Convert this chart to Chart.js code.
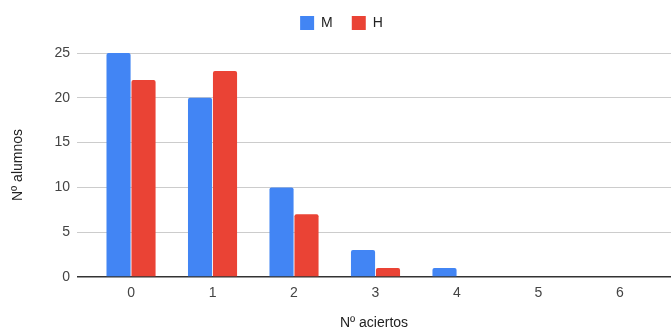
<!DOCTYPE html>
<html>
<head>
<meta charset="utf-8">
<script src="https://cdn.jsdelivr.net/npm/chart.js@4"></script>
<style>
  html, body { margin: 0; padding: 0; background: #fff; }
  #wrap { width: 671px; height: 335px; position: relative; }
</style>
</head>
<body>
<div id="wrap"><canvas id="c"></canvas></div>
<script>
// Número de aciertos por alumno, separado por M y H
const categories = [0, 1, 2, 3, 4, 5, 6];
const seriesM = [25, 20, 10, 3, 1, 0, 0];
const seriesH = [22, 23, 7, 1, 0, 0, 0];
const yTicks = [0, 5, 10, 15, 20, 25];

const FONT = "'Liberation Sans', Arial, sans-serif";
const toPoints = vals => categories.map((c, i) => ({ x: c, y: vals[i] }));

// Leaves extra room between the legend row and the plot
const legendGap = {
  id: 'legendGap',
  beforeLayout(chart) {
    const lg = chart.legend;
    if (lg && !lg._gapAdded) {
      const fit = lg.fit.bind(lg);
      lg.fit = function () { fit(); this.height += 13; };
      lg._gapAdded = true;
    }
  }
};

new Chart(document.getElementById('c'), {
  type: 'bar',
  data: {
    datasets: [
      { label: 'M', data: toPoints(seriesM), backgroundColor: '#4285F4',
        borderRadius: 2, borderSkipped: 'start',
        categoryPercentage: 0.613, barPercentage: 0.965 },
      { label: 'H', data: toPoints(seriesH), backgroundColor: '#EA4335',
        borderRadius: 2, borderSkipped: 'start',
        categoryPercentage: 0.613, barPercentage: 0.965 }
    ]
  },
  plugins: [legendGap],
  options: {
    responsive: true,
    maintainAspectRatio: false,
    animation: false,
    events: [],
    layout: { padding: { top: -3, right: 0, bottom: 0, left: 12 } },
    plugins: {
      tooltip: { enabled: false },
      legend: {
        position: 'top',
        align: 'center',
        labels: {
          boxWidth: 14, boxHeight: 14, padding: 19,
          color: '#222',
          font: { family: FONT, size: 14 }
        }
      }
    },
    scales: {
      x: {
        type: 'linear',
        offset: false,
        min: -0.663,
        max: 6.626,
        afterBuildTicks: s => { s.ticks = categories.map(v => ({ value: v })); },
        afterFit: s => { s.height = 58; },
        grid: { display: false, drawTicks: false },
        border: { display: false },
        ticks: { color: '#444', padding: 8, autoSkip: false, maxRotation: 0,
                 font: { family: FONT, size: 14 } },
        title: { display: true, text: 'Nº aciertos', color: '#222',
                 padding: { top: 0, bottom: 3 },
                 font: { family: FONT, size: 14 } }
      },
      y: {
        min: 0,
        max: 25,
        afterBuildTicks: s => { s.ticks = yTicks.map(v => ({ value: v })); },
        afterFit: s => { s.width = 65; },
        grid: {
          drawTicks: false,
          color: ctx => (ctx.tick && ctx.tick.value === 0) ? '#333' : '#cccccc',
          lineWidth: ctx => (ctx.tick && ctx.tick.value === 0) ? 1.5 : 1
        },
        border: { display: false },
        ticks: { color: '#444', padding: 7, font: { family: FONT, size: 14 } },
        title: { display: true, text: 'Nº alumnos', color: '#222',
                 padding: { top: -2, bottom: 0 },
                 font: { family: FONT, size: 14 } }
      }
    }
  }
});
</script>
</body>
</html>
